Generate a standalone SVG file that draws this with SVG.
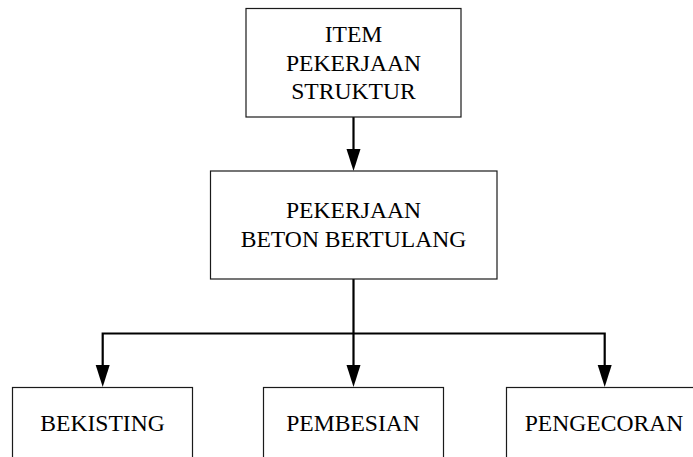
<svg xmlns="http://www.w3.org/2000/svg" width="693" height="457" viewBox="0 0 693 457">
<defs>
<style>
.box{fill:#fff;stroke:#1a1a1a;stroke-width:1.2}
.lbl{font-family:"Liberation Serif","Times New Roman",serif;font-size:23.6px;fill:#000;text-anchor:middle}
.conn{fill:none;stroke:#000;stroke-width:2.2}
.head{fill:#000}
</style>
</defs>
<rect width="693" height="457" fill="#fff"/>
<g id="connectors">
<path class="conn" d="M353.5,117 V150"/>
<polygon class="head" points="346.5,149 360.5,149 353.5,171"/>
<path class="conn" d="M353.5,279 V333.5 M102.7,333.5 H604.7 M102.7,332.4 V366 M353.5,333.5 V366 M604.7,332.4 V366"/>
<polygon class="head" points="95.7,365 109.7,365 102.7,387"/>
<polygon class="head" points="346.5,365 360.5,365 353.5,387"/>
<polygon class="head" points="597.7,365 611.7,365 604.7,387"/>
</g>
<g id="item">
<rect class="box" x="246" y="8.5" width="215" height="108.5"/>
<text class="lbl" x="353.5" y="41.7">ITEM</text>
<text class="lbl" x="353.5" y="70.5">PEKERJAAN</text>
<text class="lbl" x="353.5" y="99.3">STRUKTUR</text>
</g>
<g id="beton">
<rect class="box" x="210.5" y="171" width="286.5" height="108"/>
<text class="lbl" x="353.5" y="218.3">PEKERJAAN</text>
<text class="lbl" x="353.5" y="246.7">BETON BERTULANG</text>
</g>
<g id="bekisting">
<rect class="box" x="12.5" y="387.5" width="180" height="90"/>
<text class="lbl" x="102.5" y="431">BEKISTING</text>
</g>
<g id="pembesian">
<rect class="box" x="263.5" y="387.5" width="180" height="90"/>
<text class="lbl" x="353" y="430.5">PEMBESIAN</text>
</g>
<g id="pengecoran">
<rect class="box" x="506.5" y="387.5" width="200" height="90"/>
<text class="lbl" x="604" y="431">PENGECORAN</text>
</g>
</svg>
